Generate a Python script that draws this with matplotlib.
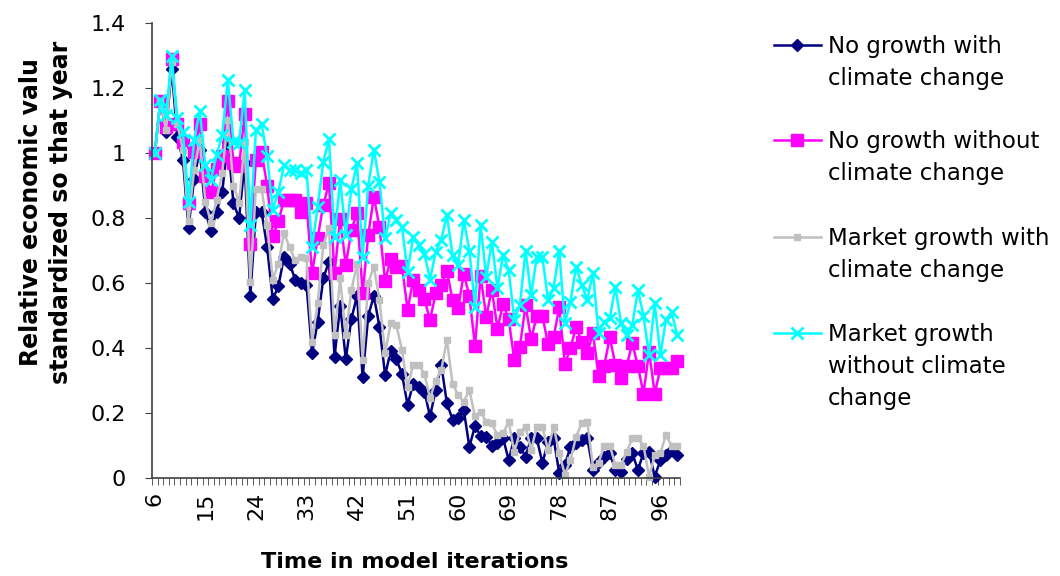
import numpy as np
import matplotlib.pyplot as plt
from matplotlib.lines import Line2D

# model iterations shown on the category axis
iterations = np.arange(6, 100)

no_growth_cc = [1.0, 1.16, 1.066, 1.26, 1.05, 0.98, 0.77, 0.92, 1.01, 0.82, 0.76, 0.82, 0.88, 1.035, 0.845, 0.80, 0.97,
                0.56, 0.82, 0.82, 0.71, 0.55, 0.59, 0.68, 0.66, 0.61, 0.60, 0.595, 0.385, 0.48, 0.615, 0.665,
                0.373, 0.53, 0.366, 0.49, 0.56, 0.31, 0.50, 0.56, 0.465, 0.317, 0.39, 0.366, 0.32, 0.225, 0.29, 0.28, 0.265, 0.19,
                0.27, 0.348, 0.23, 0.18, 0.185, 0.21, 0.096, 0.16, 0.13, 0.127, 0.10, 0.107, 0.123, 0.055, 0.123,
                0.096, 0.066, 0.122, 0.122, 0.046, 0.11, 0.122, 0.015, 0.04, 0.096, 0.107, 0.117, 0.122, 0.025, 0.05,
                0.066, 0.076, 0.025, 0.02, 0.06, 0.077, 0.025, 0.077, 0.08, 0.004, 0.055, 0.07, 0.086, 0.07]

no_growth_no_cc = [1.0, 1.16, 1.08, 1.29, 1.09, 1.035, 0.845, 1.004, 1.09, 0.93, 0.88, 0.95, 0.99, 1.16, 0.97, 0.96, 1.12,
                   0.72, 0.98, 1.004, 0.90, 0.745, 0.79, 0.855, 0.855, 0.855, 0.82, 0.845, 0.63, 0.74, 0.84, 0.907,
                   0.63, 0.797, 0.655, 0.763, 0.816, 0.568, 0.748, 0.866, 0.771, 0.607, 0.673, 0.65, 0.653, 0.517, 0.61, 0.578, 0.55, 0.486,
                   0.568, 0.594, 0.638, 0.548, 0.522, 0.628, 0.56, 0.406, 0.622, 0.496, 0.58, 0.46, 0.535, 0.488, 0.363,
                   0.404, 0.532, 0.427, 0.50, 0.50, 0.412, 0.433, 0.525, 0.35, 0.40, 0.464, 0.42, 0.384, 0.447, 0.314,
                   0.345, 0.433, 0.348, 0.307, 0.344, 0.414, 0.345, 0.26, 0.389, 0.26, 0.337, 0.337, 0.34, 0.36]

market_cc = [1.0, 1.16, 1.07, 1.28, 1.09, 1.01, 0.79, 0.948, 1.04, 0.85, 0.786, 0.855, 0.94, 1.10, 0.90, 0.847, 1.035,
             0.604, 0.89, 0.89, 0.778, 0.61, 0.66, 0.753, 0.71, 0.67, 0.68, 0.676, 0.42, 0.54, 0.717, 0.768,
             0.44, 0.614, 0.44, 0.578, 0.66, 0.363, 0.60, 0.65, 0.548, 0.384, 0.476, 0.47, 0.394, 0.28, 0.348, 0.348, 0.32, 0.245,
             0.30, 0.332, 0.425, 0.29, 0.255, 0.235, 0.27, 0.19, 0.204, 0.173, 0.168, 0.132, 0.137, 0.173, 0.08,
             0.142, 0.158, 0.086, 0.158, 0.158, 0.086, 0.158, 0.077, 0.01, 0.055, 0.127, 0.168, 0.173, 0.035, 0.046,
             0.10, 0.10, 0.04, 0.04, 0.08, 0.122, 0.122, 0.10, 0.004, 0.07, 0.077, 0.132, 0.10, 0.10]

market_no_cc = [1.0, 1.163, 1.117, 1.30, 1.107, 1.066, 0.85, 1.04, 1.13, 0.963, 0.917, 0.994, 1.055, 1.225, 1.035, 1.03, 1.194,
                0.778, 1.07, 1.09, 0.99, 0.825, 0.88, 0.963, 0.948, 0.948, 0.937, 0.948, 0.71, 0.835, 0.973, 1.042,
                0.742, 0.917, 0.748, 0.89, 0.968, 0.68, 0.90, 1.01, 0.91, 0.737, 0.814, 0.794, 0.773, 0.635, 0.742, 0.717, 0.69, 0.61,
                0.696, 0.732, 0.81, 0.686, 0.655, 0.794, 0.70, 0.527, 0.778, 0.62, 0.727, 0.584, 0.686, 0.64, 0.486,
                0.532, 0.70, 0.563, 0.681, 0.681, 0.548, 0.584, 0.70, 0.476, 0.542, 0.65, 0.594, 0.548, 0.632, 0.445,
                0.48, 0.491, 0.589, 0.476, 0.44, 0.47, 0.578, 0.50, 0.378, 0.537, 0.378, 0.486, 0.51, 0.44]

labels = ['No growth with\nclimate change',
          'No growth without\nclimate change',
          'Market growth with\nclimate change',
          'Market growth\nwithout climate\nchange']
colors = ['#000080', '#FF00FF', '#C0C0C0', '#00FFFF']
markers = ['D', 's', 's', 'x']
msizes = [6.5, 9, 5, 9]
series = [no_growth_cc, no_growth_no_cc, market_cc, market_no_cc]

fig = plt.figure(figsize=(10.6, 5.76), dpi=100)
ax = fig.add_axes([152 / 1060, 1 - 478 / 576, 528 / 1060, 455 / 576])

x = np.arange(len(iterations))
for vals, c, m, s in zip(series, colors, markers, msizes):
    ax.plot(x, vals, color=c, marker=m, ms=s, lw=1.8, mew=2 if m == 'x' else 1,
            mec=c, clip_on=False)

ax.set_xlim(-0.5, len(x) - 0.5)
ax.set_ylim(0, 1.4)
yt = [0, 0.2, 0.4, 0.6, 0.8, 1.0, 1.2, 1.4]
ax.set_yticks(yt)
ax.set_yticklabels(['0', '0.2', '0.4', '0.6', '0.8', '1', '1.2', '1.4'], fontsize=16)
ax.set_xticks(x[::9])
ax.set_xticklabels([str(v) for v in iterations[::9]], rotation=90, fontsize=16)
ax.set_xticks(np.arange(-0.5, len(x)), minor=True)
ax.tick_params(axis='x', which='major', length=0, pad=10)
ax.tick_params(axis='x', which='minor', length=5, color='#404040')
ax.tick_params(axis='y', length=5, pad=14, color='#404040')
for sp in ['top', 'right']:
    ax.spines[sp].set_visible(False)
for sp in ['left', 'bottom']:
    ax.spines[sp].set_color('#404040')
    ax.spines[sp].set_linewidth(1.2)

fig.text(46 / 1060, 1 - 212 / 576, 'Relative economic valu\nstandardized so that year',
         rotation=90, ha='center', va='center', fontsize=17, fontweight='bold', linespacing=1.35)
fig.text(415 / 1060, 1 - 562 / 576, 'Time in model iterations',
         ha='center', va='center', fontsize=16, fontweight='bold')

# legend drawn by hand so the key sits on the first text line
legend_y = [45, 140, 237, 333]
for lab, c, m, s, yy in zip(labels, colors, markers, msizes, legend_y):
    yf = 1 - yy / 576
    fig.add_artist(Line2D([774 / 1060, 797 / 1060, 821 / 1060], [yf, yf, yf], color=c, lw=1.8,
                          marker=m, ms=s * 0.9, markevery=[1], mew=2 if m == 'x' else 1, mec=c))
    for k, line in enumerate(lab.split('\n')):
        fig.text(828 / 1060, 1 - (yy + 8 + 32 * k) / 576, line, ha='left', va='baseline',
                 fontsize=16.5)

fig.savefig('out.png', dpi=100)
